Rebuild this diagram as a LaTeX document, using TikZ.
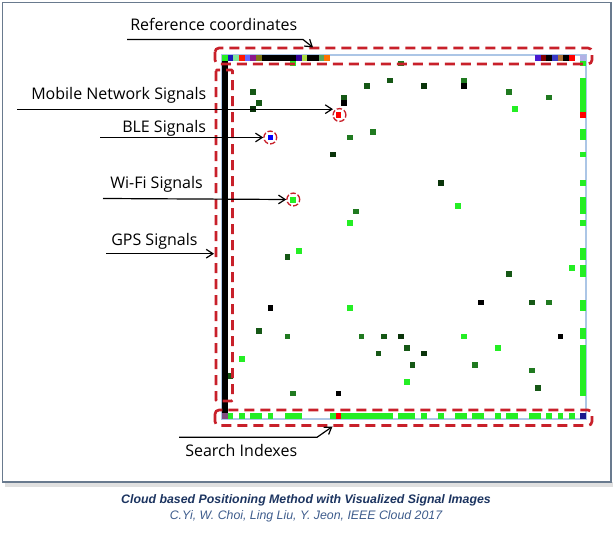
\documentclass[tikz,border=0pt]{standalone}
\usepackage{fontspec}
\setmainfont{Open Sans}
\newfontfamily\capfont{Liberation Sans}
\usepackage{tikz}
\usetikzlibrary{positioning,arrows.meta}

\definecolor{sigred}{RGB}{200,32,42}
\definecolor{gL}{RGB}{36,238,36}
\definecolor{gM}{RGB}{32,122,32}
\definecolor{gD}{RGB}{22,88,22}
\definecolor{gV}{RGB}{10,52,10}
\definecolor{gridblue}{RGB}{172,198,230}
\definecolor{framegray}{RGB}{105,122,142}
\definecolor{capnavy}{RGB}{28,52,96}
\definecolor{capblue}{RGB}{62,92,140}

\tikzset{
  lbl/.style={font=\fontsize{12}{14}\selectfont, inner sep=0pt, anchor=base west},
  arr/.style={-{Straight Barb[length=5pt,width=6.5pt]}, line width=0.9pt},
  redbox/.style={draw=sigred, line width=2pt, dash pattern=on 7.5pt off 4.5pt, rounded corners=3pt},
  ring/.style={circle, draw=sigred, line width=1pt, dash pattern=on 4pt off 1.6pt, minimum size=9.6pt, inner sep=0pt},
}

\begin{document}
\begin{tikzpicture}[x=0.75pt, y=-0.75pt]
\useasboundingbox (0,0) rectangle (614,534);
% frame
\fill[black!12] (5,482) rectangle (613,487);
\fill[white] (2.5,2.5) rectangle (611,482);
\draw[framegray, line width=0.9pt] (2.5,2.5) rectangle (611,482);

% signal image, 64 x 64 cells
\begin{scope}[shift={(222,55)}, x=4.265625pt, y=-4.265625pt]
\draw[gridblue, line width=1pt] (0,0) rectangle (64,64);
% reference coordinates (top row)
\fill[gL] (0,0) rectangle +(1,1);
\fill[blue!70!black!90] (1,0) rectangle +(1,1);
\fill[teal!40!green!50] (2,0) rectangle +(1,1);
\fill[red!80!orange] (3,0) rectangle +(1,1);
\fill[blue!60] (4,0) rectangle +(1,1);
\fill[violet!90] (5,0) rectangle +(1,1);
\fill[olive!85!black] (6,0) rectangle +(1,1);
\fill[black] (7,0) rectangle (13,1);
\fill[blue!50!violet!80!black] (13,0) rectangle +(1,1);
\fill[yellow!60!green!80] (14,0) rectangle +(1,1);
\fill[black] (15,0) rectangle (17,1);
\fill[green!30!gray] (17,0) rectangle +(1,1);
\fill[orange!90!red] (18,0) rectangle +(1,1);
\fill[blue!60!violet!90] (55,0) rectangle +(1,1);
\fill[red!50!black] (56,0) rectangle +(1,1);
\fill[black] (57,0) rectangle +(1,1);
\fill[blue!55!gray] (58,0) rectangle +(1,1);
\fill[brown!90!black] (59,0) rectangle +(1,1);
\fill[black] (60,0) rectangle +(1,1);
\fill[red] (61,0) rectangle +(1,1);
\fill[gray!50!blue!40] (63,0) rectangle +(1,1);
% GPS signals (left column)
\fill[black] (0,1) rectangle (1,63);
\fill[violet!40!gray] (0,63) rectangle +(1,1);
% search indexes (right column and bottom row)
\foreach \a/\b in {1/1,4/9,13/14,17/17,22/22,25/27,29/29,34/35,37/38,43/44,48/49,51/59}
  \fill[gL] (63,\a) rectangle (64,\b+1);
\fill[red] (63,10) rectangle +(1,1);
\foreach \a/\b in {1/1,3/3,5/6,8/8,11/13,19/19,21/29,31/33,35/35,38/38,41/42,44/45,48/48,50/51,54/55,57/57,59/59,61/61}
  \fill[gL] (\a,63) rectangle (\b+1,64);
\fill[red] (20,63) rectangle +(1,1);
\fill[blue!50!black!90] (63,63) rectangle +(1,1);
% Wi-Fi signals
\foreach \c/\r in {12/1,51/9,12/25,41/26,22/29,13/34,61/37,22/44,42/49,48/51,3/53,32/57}
  \fill[gL] (\c,\r) rectangle +(1,1);
\foreach \c/\r in {31/1,42/4,50/6,57/7,26/13,22/14,23/27,57/43,11/49,24/49,44/54,54/55,12/59}
  \fill[gM] (\c,\r) rectangle +(1,1);
\foreach \c/\r in {29/4,25/5,5/6,21/7,6/8,11/35,50/38,54/43,6/48,28/49,32/51,27/52,33/54,1/56,55/58}
  \fill[gD] (\c,\r) rectangle +(1,1);
\foreach \c/\r in {35/5,5/9,19/17,38/22,35/52,31/49}
  \fill[gV] (\c,\r) rectangle +(1,1);
\foreach \c/\r in {42/5,21/8,45/43,8/44,59/49,20/59}
  \fill[black] (\c,\r) rectangle +(1,1);
% mobile network and BLE signals
\fill[red] (20,10) rectangle +(1,1);
\fill[blue] (8,14) rectangle +(1,1);
\end{scope}

% dashed boxes
\draw[redbox] (215,48) rectangle (592,64);
\draw[redbox, rounded corners=0.8pt] (216,70) rectangle (232.5,401);
\draw[redbox] (215,410) rectangle (592,425.5);
\node[ring] (mobring) at (339.5,115) {};
\node[ring] (blering) at (270.3,137.5) {};
\node[ring] (wifiring) at (293.3,199.5) {};

% labels
\node[lbl] (reftxt) at (130,30.7) {Reference coordinates};
\node[lbl] (mobtxt) at (31,100) {Mobile Network Signals};
\node[lbl] (bletxt) at (122,132.7) {BLE Signals};
\node[lbl] (wifitxt) at (110,188.3) {Wi-Fi Signals};
\node[lbl] (gpstxt) at (111,246) {GPS Signals};
\node[lbl] (srchtxt) at (185,456.7) {Search Indexes};

% arrows
\coordinate (refstart) at (127,39.5);
\coordinate (reftip) at (313,47.5);
\coordinate (mobstart) at (17,109.2);
\coordinate (mobtip) at (333,109.2);
\coordinate (blestart) at (100,137.5);
\coordinate (wifistart) at (103,198.5);
\coordinate (gpsstart) at (106,253.7);
\coordinate (gpstip) at (214,253.7);
\coordinate (srchstart) at (179,437.3);
\coordinate (srchtip) at (332.5,426.5);
\draw[arr] (refstart) -- (303,39.5) -- (reftip);
\draw[arr] (mobstart) -- (mobtip);
\draw[arr] (blestart) -- (blering.west);
\draw[arr] (wifistart) -- (wifiring.west);
\draw[arr] (gpsstart) -- (gpstip);
\draw[arr] (srchstart) -- (317,437.3) -- (srchtip);

% caption
\node[font=\capfont\bfseries\itshape\fontsize{9.25}{11}\selectfont, text=capnavy, inner sep=0pt] (captop) at (306,500.7) {Cloud based Positioning Method with Visualized Signal Images};
\node[font=\capfont\itshape\fontsize{9.25}{11}\selectfont, text=capblue, inner sep=0pt, below=2.6pt of captop] (capbot) {C.Yi, W. Choi, Ling Liu, Y. Jeon, IEEE Cloud 2017};
\end{tikzpicture}
\end{document}
